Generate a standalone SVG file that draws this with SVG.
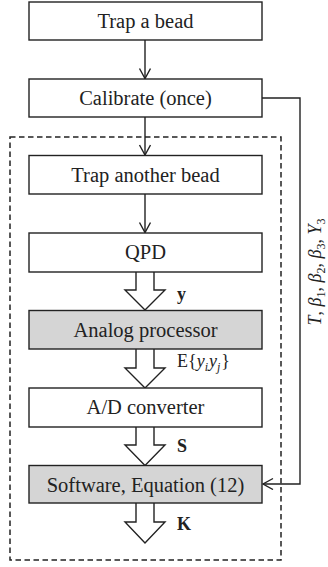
<svg xmlns="http://www.w3.org/2000/svg" width="328" height="567" viewBox="0 0 328 567">
<style>
.box{fill:#fff;stroke:#222;stroke-width:1.4}
.gray{fill:#d5d5d5}
.lbl{font-family:"Liberation Serif","Times New Roman",serif;font-size:20.5px;fill:#222;text-anchor:middle}
.sym{font-family:"Liberation Serif","Times New Roman",serif;font-size:18px;fill:#222}
.ln{fill:none;stroke:#222;stroke-width:1.4}
.fat{fill:#fff;stroke:#222;stroke-width:1.4;stroke-linejoin:miter}
.dash{fill:none;stroke:#222;stroke-width:1.5;stroke-dasharray:5.5 3.5}
</style>
<defs>
<marker id="v" markerWidth="14" markerHeight="14" refX="11" refY="6" orient="auto" markerUnits="userSpaceOnUse">
<path d="M1,0.5 L11,6 L1,11.5" fill="none" stroke="#222" stroke-width="1.4"/>
</marker>
</defs>
<rect class="dash" x="10" y="137" width="271" height="423"/>
<g id="connectors">
<line class="ln" x1="145" y1="40" x2="145" y2="78.5" marker-end="url(#v)"/>
<line class="ln" x1="145" y1="117" x2="145" y2="155" marker-end="url(#v)"/>
<line class="ln" x1="145" y1="194" x2="145" y2="232.5" marker-end="url(#v)"/>
<polyline class="ln" points="262,98 300,98 300,484 263,484" marker-end="url(#v)"/>
<path class="fat" d="M136,272 V290 H125 L145,310 L165,290 H154 V272"/>
<path class="fat" d="M136,349 V368 H125 L145,388 L165,368 H154 V349"/>
<path class="fat" d="M136,427 V445 H125 L145,465.5 L165,445 H154 V427"/>
<path class="fat" d="M136,503 V522 H125 L145,543 L165,522 H154 V503"/>
<text class="sym" x="177" y="300" font-weight="bold">y</text>
<text class="sym" x="177" y="367">E{<tspan font-style="italic">y</tspan><tspan font-style="italic" font-size="12" dy="4">i</tspan><tspan font-style="italic" dy="-4" dx="1">y</tspan><tspan font-style="italic" font-size="12" dy="4">j</tspan><tspan dy="-4" dx="1">}</tspan></text>
<text class="sym" x="177" y="452" font-weight="bold">S</text>
<text class="sym" x="177" y="530" font-weight="bold">K</text>
<text class="sym" transform="translate(321,272) rotate(-90)" text-anchor="middle"><tspan font-style="italic">T</tspan>, <tspan font-style="italic">β</tspan><tspan font-size="12" dy="4">1</tspan><tspan dy="-4">, </tspan><tspan font-style="italic">β</tspan><tspan font-size="12" dy="4">2</tspan><tspan dy="-4">, </tspan><tspan font-style="italic">β</tspan><tspan font-size="12" dy="4">3</tspan><tspan dy="-4">, </tspan><tspan font-style="italic">Y</tspan><tspan font-size="12" dy="4">3</tspan></text>
</g>
<g id="n1"><rect class="box" x="29" y="2" width="233" height="38"/><text class="lbl" x="145.5" y="28">Trap a bead</text></g>
<g id="n2"><rect class="box" x="29" y="79" width="233" height="38"/><text class="lbl" x="145.5" y="105">Calibrate (once)</text></g>
<g id="n3"><rect class="box" x="29" y="155.5" width="233" height="38.5"/><text class="lbl" x="145.5" y="181.5">Trap another bead</text></g>
<g id="n4"><rect class="box" x="29" y="233" width="233" height="39"/><text class="lbl" x="145.5" y="259">QPD</text></g>
<g id="n5"><rect class="box gray" x="29" y="310.5" width="233" height="38.5"/><text class="lbl" x="145.5" y="337">Analog processor</text></g>
<g id="n6"><rect class="box" x="29" y="388" width="233" height="39"/><text class="lbl" x="145.5" y="414">A/D converter</text></g>
<g id="n7"><rect class="box gray" x="29" y="465.5" width="233" height="37.5"/><text class="lbl" x="145.5" y="491.5">Software, Equation (12)</text></g>
</svg>
